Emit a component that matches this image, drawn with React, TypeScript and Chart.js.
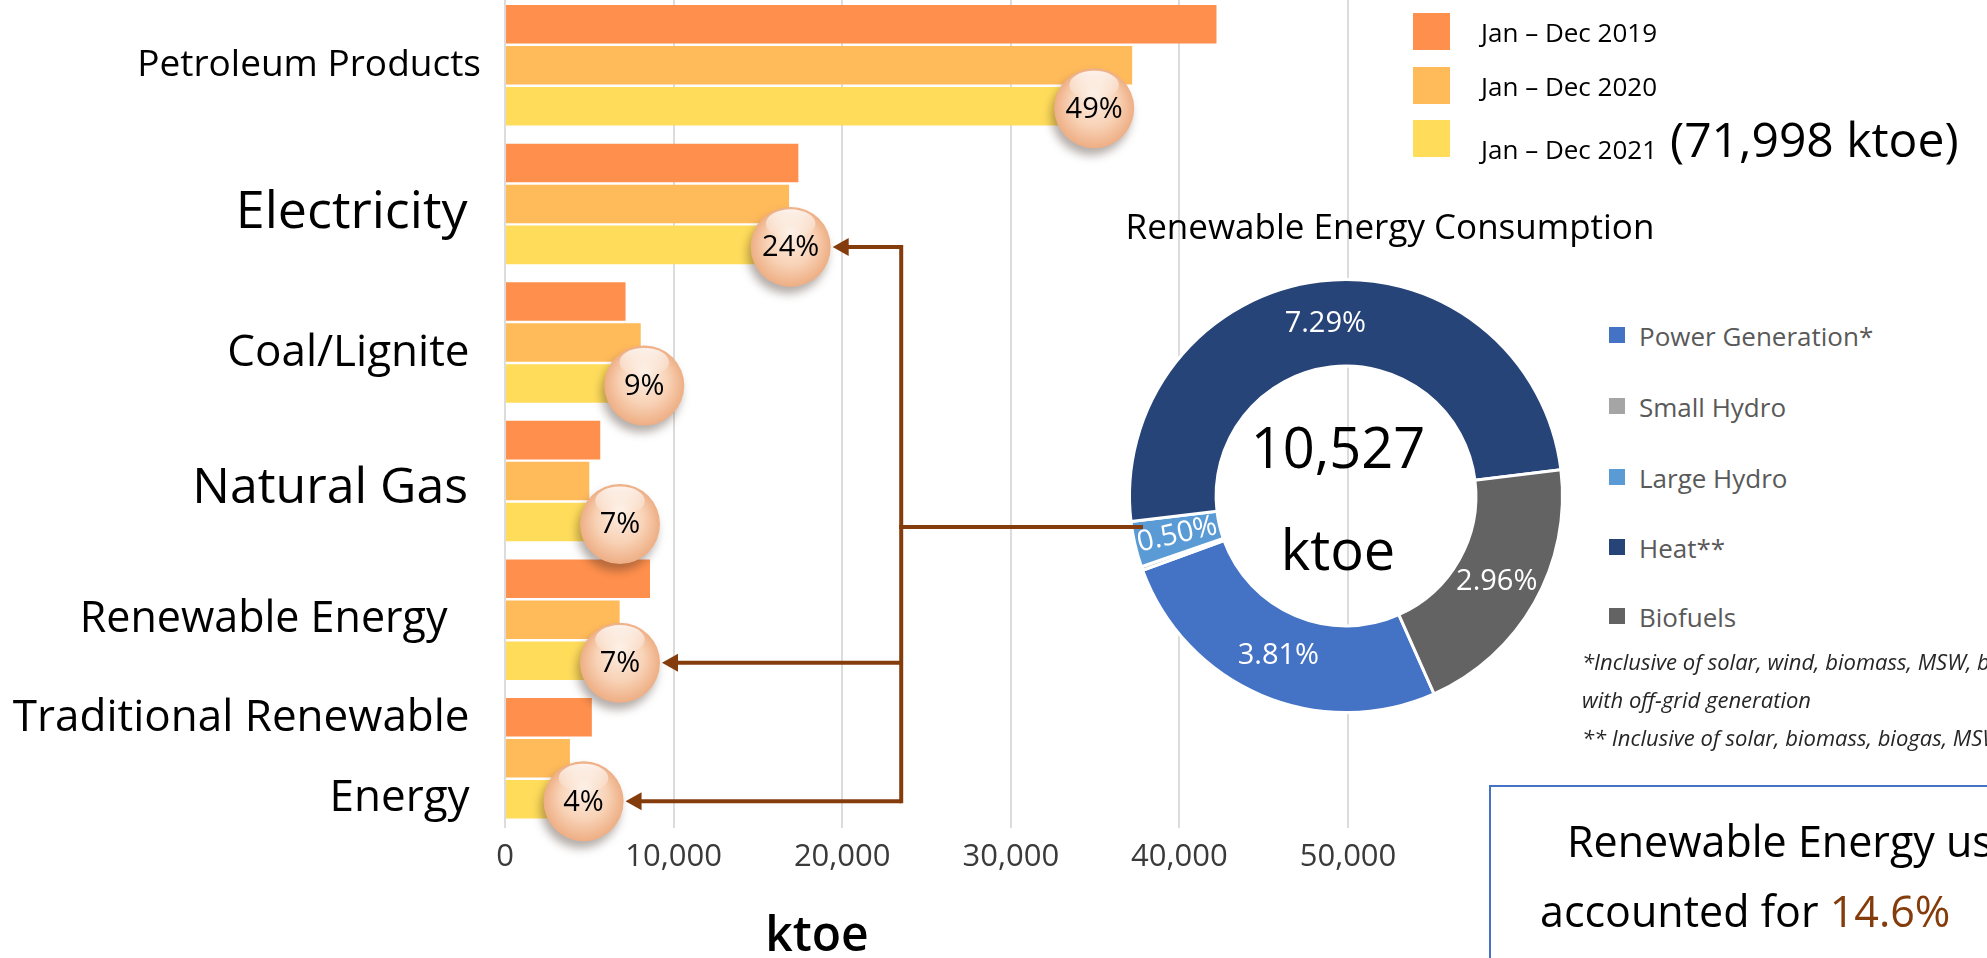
import React, { useEffect, useRef } from 'react';
import { Chart, registerables } from 'chart.js';

Chart.register(...registerables);

const FONT = "'Open Sans', 'Noto Sans', 'DejaVu Sans', sans-serif";

// ---------------- data ----------------
const categories: (string | string[])[] = [
  'Petroleum Products',
  'Electricity',
  'Coal/Lignite',
  'Natural Gas',
  'Renewable Energy',
  ['Traditional Renewable', 'Energy'],
];
const seriesNames = ['Jan \u2013 Dec 2019', 'Jan \u2013 Dec 2020', 'Jan \u2013 Dec 2021'];
const values2019 = [42200, 17400, 7150, 5650, 8600, 5150];
const values2020 = [37200, 16850, 8050, 5000, 6800, 3850];
const values2021 = [35300, 17300, 6480, 5040, 5040, 2880];
const shares2021 = ['49%', '24%', '9%', '7%', '7%', '4%'];
const total2021Label = '(71,998 ktoe)';
const xAxisMax = 60000;
const xAxisStep = 10000;
const xAxisTitle = 'ktoe';
const arrowTargets = [1, 4, 5]; // Electricity, Renewable Energy, Traditional Renewable Energy
const connectorValue = 23500; // x-value where the brown connector runs

const reTitle = 'Renewable Energy Consumption';
const reLabels = ['Power Generation*', 'Small Hydro', 'Large Hydro', 'Heat**', 'Biofuels'];
const reShares = [3.81, 0.04, 0.5, 7.29, 2.96];
const reTotal = '10,527';
const reUnit = 'ktoe';
const footnotes = [
  '*Inclusive of solar, wind, biomass, MSW, biogas, small hydro and large hydro',
  'with off-grid generation',
  '** Inclusive of solar, biomass, biogas, MSW and other renewable heat',
];
const boxLine1 = 'Renewable Energy usage in 2021';
const boxLine2a = 'accounted for ';
const boxLine2b = '14.6%';

// ---------------- styles ----------------
const seriesColors = ['#ff8f4c', '#ffba5a', '#ffdc5a'];
const reColors = ['#4472c4', '#a5a5a5', '#5b9bd5', '#264478', '#636363'];
const labelFontSizes = [37, 52, 44, 50, 43, 44];
const labelTrailingSpaces = [0, 1, 1, 1, 3, 1];
const labelShiftDown = [0, 9, 11, 8, 0, 0]; // px the label sits below its category centre
const ARROW = '#843c0c';

const BAR_TOP = -14;
const BAR_W = 1600;
const BAR_H = 972;
const BUBBLE_R = 40;

const DONUT_LEFT = 1116;
const DONUT_TOP = 266;
const DONUT_SIZE = 460;
const CONNECT_Y = 527; // page y of the connector into the donut
const CONNECT_END_X = 1143; // page x where the connector ends

function drawBubble(ctx: CanvasRenderingContext2D, cx: number, cy: number, r: number, text: string) {
  ctx.save();
  ctx.shadowColor = 'rgba(60,40,30,0.38)';
  ctx.shadowBlur = 10;
  ctx.shadowOffsetX = -3;
  ctx.shadowOffsetY = 7;
  const g = ctx.createRadialGradient(cx, cy - r * 0.3, r * 0.1, cx, cy, r);
  g.addColorStop(0, '#fcebde');
  g.addColorStop(0.55, '#f8d2b6');
  g.addColorStop(1, '#eeae84');
  ctx.fillStyle = g;
  ctx.beginPath();
  ctx.arc(cx, cy, r, 0, Math.PI * 2);
  ctx.fill();
  ctx.restore();
  ctx.save();
  const hg = ctx.createLinearGradient(cx, cy - r, cx, cy - r * 0.2);
  hg.addColorStop(0, 'rgba(255,255,255,0.9)');
  hg.addColorStop(1, 'rgba(255,255,255,0)');
  ctx.fillStyle = hg;
  ctx.beginPath();
  ctx.ellipse(cx, cy - r * 0.58, r * 0.62, r * 0.36, 0, 0, Math.PI * 2);
  ctx.fill();
  ctx.fillStyle = '#000';
  ctx.font = `29px ${FONT}`;
  ctx.textAlign = 'center';
  ctx.textBaseline = 'middle';
  ctx.fillText(text, cx, cy + 1);
  ctx.restore();
}

const bubblePlugin = {
  id: 'bubblesAndArrows',
  afterDatasetsDraw(chart: any) {
    const ctx: CanvasRenderingContext2D = chart.ctx;
    const meta = chart.getDatasetMeta(2);
    const pos = meta.data.map((el: any, i: number) => ({
      x: el.x + (values2021[i] < 10000 ? 30 : -6),
      y: el.y + 2,
    }));
    const vx = chart.scales.x.getPixelForValue(connectorValue);
    const ys = arrowTargets.map((i) => pos[i].y);
    ctx.save();
    ctx.strokeStyle = ARROW;
    ctx.fillStyle = ARROW;
    ctx.lineWidth = 4;
    ctx.lineCap = 'butt';
    ctx.beginPath();
    ctx.moveTo(vx, Math.min(...ys) - 2);
    ctx.lineTo(vx, Math.max(...ys) + 2);
    ctx.stroke();
    arrowTargets.forEach((i) => {
      const p = pos[i];
      const tip = p.x + BUBBLE_R + 2;
      ctx.beginPath();
      ctx.moveTo(vx, p.y);
      ctx.lineTo(tip + 12, p.y);
      ctx.stroke();
      ctx.beginPath();
      ctx.moveTo(tip, p.y);
      ctx.lineTo(tip + 16, p.y - 9);
      ctx.lineTo(tip + 16, p.y + 9);
      ctx.closePath();
      ctx.fill();
    });
    const cy = CONNECT_Y - BAR_TOP;
    ctx.beginPath();
    ctx.moveTo(vx - 2, cy);
    ctx.lineTo(CONNECT_END_X, cy);
    ctx.stroke();
    ctx.restore();
    pos.forEach((p: any, i: number) => drawBubble(ctx, p.x, p.y, BUBBLE_R, shares2021[i]));
  },
};

function BarChart() {
  const ref = useRef<HTMLCanvasElement>(null);
  useEffect(() => {
    const canvas = ref.current as HTMLCanvasElement;
    const chart = new Chart(canvas, {
      type: 'bar',
      data: {
        labels: categories as any,
        datasets: [values2019, values2020, values2021].map((vals, k) => ({
          label: seriesNames[k],
          data: vals,
          backgroundColor: seriesColors[k],
          borderWidth: 0,
          barPercentage: 0.94,
          categoryPercentage: 0.887,
        })),
      },
      options: {
        indexAxis: 'y',
        responsive: false,
        animation: false,
        devicePixelRatio: 1,
        layout: { padding: { top: 10, right: BAR_W - 1516.6, left: 0, bottom: 0 } },
        plugins: { legend: { display: false }, tooltip: { enabled: false } },
        scales: {
          x: {
            min: 0,
            max: xAxisMax,
            ticks: {
              stepSize: xAxisStep,
              color: '#3a3a3a',
              padding: 11,
              font: { family: FONT, size: 31 },
              callback: (v: any) => (Number(v) >= xAxisMax ? '' : Number(v).toLocaleString('en-US')),
            },
            grid: {
              color: (c: any) => (c.tick && c.tick.value >= xAxisMax ? 'rgba(0,0,0,0)' : '#dcdcdc'),
              lineWidth: 2,
              drawTicks: false,
            },
            border: { display: false },
            afterFit: (s: any) => {
              s.height = BAR_H - 841.6;
              s.paddingLeft = 0;
              s.paddingRight = 0;
            },
          },
          y: {
            ticks: {
              autoSkip: false,
              color: '#000',
              padding: 24,
              font: (c: any) => {
                const i = c.index;
                const size = labelFontSizes[i] || 40;
                if (Array.isArray(categories[i])) return { family: FONT, size, lineHeight: 1.82 };
                const sh = labelShiftDown[i] || 0;
                return { family: FONT, size, lineHeight: sh > 0 ? `${2 * sh}px` : 1.2 };
              },
              callback: (_v: any, i: number) => {
                const pad = ' '.repeat(labelTrailingSpaces[i] || 0);
                const lab = categories[i];
                if (Array.isArray(lab)) return lab.map((l) => l + pad);
                return (labelShiftDown[i] || 0) > 0 ? ['', lab + pad] : lab + pad;
              },
            },
            grid: { display: false, drawTicks: false },
            border: { display: false },
            afterFit: (s: any) => {
              s.width = 505;
              s.paddingTop = 0;
              s.paddingBottom = 0;
            },
          },
        },
      } as any,
      plugins: [bubblePlugin],
    });
    return () => chart.destroy();
  }, []);
  return (
    <canvas
      ref={ref}
      width={BAR_W}
      height={BAR_H}
      style={{ position: 'absolute', left: 0, top: BAR_TOP, width: BAR_W, height: BAR_H }}
    />
  );
}

const donutLabelPlugin = {
  id: 'donutLabels',
  afterDatasetsDraw(chart: any) {
    const ctx: CanvasRenderingContext2D = chart.ctx;
    const meta = chart.getDatasetMeta(0);
    let cx = 0;
    let cy = 0;
    meta.data.forEach((arc: any, i: number) => {
      const p = arc.getProps(['x', 'y', 'startAngle', 'endAngle', 'innerRadius', 'outerRadius'], true);
      cx = p.x;
      cy = p.y;
      if (reShares[i] < 0.1) return;
      const a = (p.startAngle + p.endAngle) / 2;
      const rm = (p.innerRadius + p.outerRadius) / 2;
      const tx = p.x + Math.cos(a) * rm;
      const ty = p.y + Math.sin(a) * rm;
      ctx.save();
      ctx.translate(tx, ty);
      if (reShares[i] < 1) ctx.rotate(a - Math.PI);
      ctx.font = `29px ${FONT}`;
      ctx.fillStyle = '#fff';
      ctx.textAlign = 'center';
      ctx.textBaseline = 'middle';
      ctx.fillText(reShares[i].toFixed(2) + '%', 0, 0);
      ctx.restore();
    });
    ctx.save();
    ctx.fillStyle = '#000';
    ctx.font = `56px ${FONT}`;
    ctx.textAlign = 'center';
    ctx.textBaseline = 'alphabetic';
    ctx.fillText(reTotal, cx - 8, cy - 28);
    ctx.fillText(reUnit, cx - 8, cy + 74);
    ctx.strokeStyle = ARROW;
    ctx.lineWidth = 4;
    ctx.beginPath();
    ctx.moveTo(0, CONNECT_Y - DONUT_TOP);
    ctx.lineTo(CONNECT_END_X - DONUT_LEFT, CONNECT_Y - DONUT_TOP);
    ctx.stroke();
    ctx.restore();
  },
};

function DonutChart() {
  const ref = useRef<HTMLCanvasElement>(null);
  useEffect(() => {
    const canvas = ref.current as HTMLCanvasElement;
    const chart = new Chart(canvas, {
      type: 'doughnut',
      data: {
        labels: reLabels,
        datasets: [
          {
            data: reShares,
            backgroundColor: reColors,
            borderColor: '#ffffff',
            borderWidth: 3,
          },
        ],
      },
      options: {
        responsive: false,
        animation: false,
        devicePixelRatio: 1,
        rotation: 156,
        cutout: '60%',
        layout: { padding: 12 },
        plugins: { legend: { display: false }, tooltip: { enabled: false } },
      } as any,
      plugins: [donutLabelPlugin],
    });
    return () => chart.destroy();
  }, []);
  return (
    <canvas
      ref={ref}
      width={DONUT_SIZE}
      height={DONUT_SIZE}
      style={{ position: 'absolute', left: DONUT_LEFT, top: DONUT_TOP, width: DONUT_SIZE, height: DONUT_SIZE }}
    />
  );
}

function T(props: { x: number; y: number; size: number; children: any; style?: any }) {
  return (
    <div
      style={{
        position: 'absolute',
        left: props.x,
        top: props.y,
        fontSize: props.size,
        lineHeight: 1,
        whiteSpace: 'nowrap',
        ...(props.style || {}),
      }}
    >
      {props.children}
    </div>
  );
}

export default function App() {
  const legendSquareTops = [13, 67, 120];
  const legendTextTops = [18.7, 73, 136];
  const reLegendCenters = [337, 408, 479, 549, 618];
  const footCenters = [662, 700, 738];
  return (
    <div
      style={{
        position: 'absolute',
        left: 0,
        top: 0,
        width: 1987,
        height: 958,
        overflow: 'hidden',
        background: '#fff',
        fontFamily: FONT,
        color: '#000',
      }}
    >
      <BarChart />
      <DonutChart />

      {seriesNames.map((n, i) => (
        <React.Fragment key={n}>
          <div
            style={{
              position: 'absolute',
              left: 1413,
              top: legendSquareTops[i],
              width: 37,
              height: 37,
              background: seriesColors[i],
            }}
          />
          <T x={1481} y={legendTextTops[i]} size={26}>
            {n}
          </T>
        </React.Fragment>
      ))}
      <T x={1670} y={115.4} size={48}>
        {total2021Label}
      </T>

      <T x={717} y={909.4} size={48} style={{ width: 200, textAlign: 'center', fontWeight: 600 }}>
        {xAxisTitle}
      </T>

      <T x={1090} y={208.4} size={35} style={{ width: 600, textAlign: 'center' }}>
        {reTitle}
      </T>

      {reLabels.map((n, i) => (
        <React.Fragment key={n}>
          <div
            style={{
              position: 'absolute',
              left: 1609,
              top: reLegendCenters[i] - 10,
              width: 16,
              height: 16,
              background: reColors[i],
            }}
          />
          <T x={1639} y={reLegendCenters[i] - 13.8} size={26} style={{ color: '#595959' }}>
            {n}
          </T>
        </React.Fragment>
      ))}

      {footnotes.map((f, i) => (
        <T key={i} x={1582} y={footCenters[i] - 11.7} size={22} style={{ fontStyle: 'italic', color: '#262626' }}>
          {f}
        </T>
      ))}

      <div
        style={{
          position: 'absolute',
          left: 1489,
          top: 785,
          width: 700,
          height: 300,
          border: '2px solid #4472c4',
          boxSizing: 'border-box',
        }}
      />
      <T x={1567} y={819} size={43}>
        {boxLine1}
      </T>
      <T x={1540} y={889} size={43}>
        {boxLine2a}
        <span style={{ color: ARROW }}>{boxLine2b}</span>
      </T>
    </div>
  );
}
